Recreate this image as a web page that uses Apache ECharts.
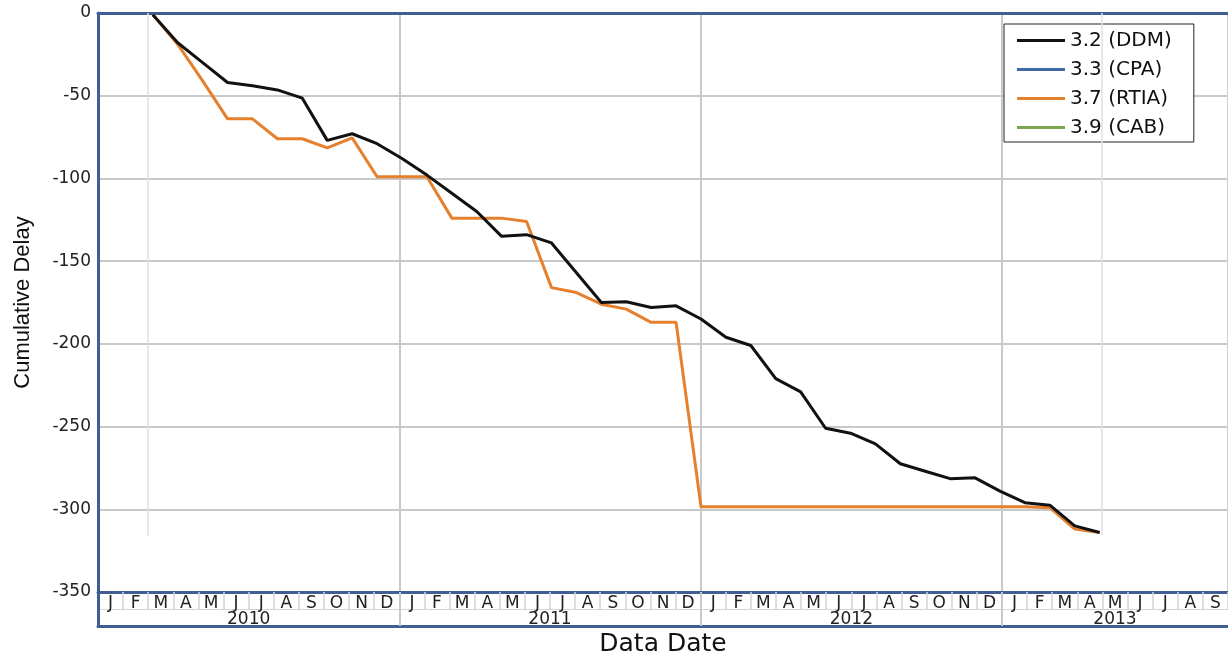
<!DOCTYPE html>
<html lang="en">
<head>
	<meta charset="UTF-8">
	<title>Cumulative Delay</title>
	<style>
		html, body { margin: 0; padding: 0; background: #fff; }
	</style>
</head>
<body>
	<div id="main" style="width: 1228px;height: 656px"></div>
	<script src="https://cdn.jsdelivr.net/npm/echarts@6/dist/echarts.min.js"></script>
	<script>
		// axis labels
		var monthLetters = ['J', 'F', 'M', 'A', 'M', 'J', 'J', 'A', 'S', 'O', 'N', 'D'];
		var years = ['2010', '2011', '2012', '2013'];
		var monthCount = 45;              // Jan 2010 .. Sep 2013
		var firstPointMonth = 2;          // first report: Mar 2010

		// monthly values, Mar 2010 .. May 2013
		var ddm = [
			-1, -18, -30, -42, -44, -46.5, -51.5, -77, -73, -79,
			-88, -98, -109, -120, -135, -134, -139, -157, -175, -174.5, -178, -177,
			-185, -196, -201, -221, -229, -251, -254, -260.5, -272.5, -277, -281.5, -281,
			-289, -296, -297.5, -310, -314
		];
		var rtia = [
			-1, -19, -41, -64, -64, -76, -76, -81.5, -75.5, -99,
			-99, -99, -124, -124, -124, -126, -166, -169, -176, -179, -187, -187,
			-298.5, -298.5, -298.5, -298.5, -298.5, -298.5, -298.5, -298.5, -298.5, -298.5, -298.5, -298.5,
			-298.5, -298.5, -299, -312, -314
		];
		var cpa = [];
		var cab = [];

		// faint markers at start / end of the reporting window
		var windowMarks = [1.8, 40.1];
		var windowDepth = -316;

		var monthLabels = [];
		for (var i = 0; i < monthCount; i++) {
			monthLabels.push(monthLetters[i % 12]);
		}

		var yearStarts = [], yearCenters = [];
		years.forEach(function(y, k) {
			var s = k * 12, e = Math.min(monthCount, s + 12);
			if (k > 0) yearStarts.push(s);
			yearCenters.push((s + e) / 2);
		});

		function toPoints(arr) {
			return arr.map(function(v, k) { return [firstPointMonth + k, v]; });
		}

		var blue = '#3f5f94';
		var grid = '#c9c9c9';
		var font = 'DejaVu Sans';

		var myChart = echarts.init(document.getElementById('main'));
		var option = {
			animation: false,
			backgroundColor: '#fff',
			grid: {
				left: 98, right: 0, top: 13, bottom: 64,
				outerBoundsMode: 'none'
			},
			legend: {
				orient: 'vertical',
				left: 1004,
				top: 24,
				padding: [6, 22, 4, 13],
				backgroundColor: '#fff',
				borderColor: '#222',
				borderWidth: 1,
				icon: 'rect',
				itemWidth: 48,
				itemHeight: 3,
				itemGap: 8,
				data: ['3.2 (DDM)', '3.3 (CPA)', '3.7 (RTIA)', '3.9 (CAB)'],
				textStyle: { fontFamily: font, fontSize: 20, color: '#111', lineHeight: 21 }
			},
			xAxis: [
				// data axis (hidden, drawn as top border)
				{
					type: 'value',
					position: 'top',
					min: -0.2,
					max: 45.15,
					axisLine: { onZero: false, lineStyle: { color: blue, width: 3 } },
					axisTick: { show: false },
					axisLabel: { show: false },
					splitLine: { show: false }
				},
				// month row
				{
					type: 'category',
					position: 'bottom',
					data: monthLabels,
					boundaryGap: true,
					axisLine: { onZero: false, lineStyle: { color: blue, width: 3 } },
					axisTick: { show: true, interval: 0, length: 17, lineStyle: { color: '#d4d4d4', width: 1.5 } },
					axisLabel: { interval: 0, margin: 3, fontFamily: font, fontSize: 17, color: '#222' },
					splitLine: {
						show: true,
						interval: function(index) { return index > 0 && index % 12 === 0; },
						lineStyle: { color: grid, width: 2 }
					}
				},
				// year row
				{
					type: 'value',
					position: 'bottom',
					min: 0,
					max: monthCount,
					axisLine: { show: false, onZero: false },
					axisTick: { show: true, customValues: yearStarts, length: 34, lineStyle: { color: grid, width: 2 } },
					axisLabel: {
						customValues: yearCenters,
						margin: 19,
						fontFamily: font,
						fontSize: 17,
						color: '#222',
						formatter: function(v) { return years[Math.floor(v / 12)]; }
					},
					splitLine: { show: false }
				},
				// divider between month and year rows
				{
					type: 'value',
					position: 'bottom',
					offset: 17,
					min: 0,
					max: monthCount,
					axisLine: { onZero: false, lineStyle: { color: '#d4d4d4', width: 1 } },
					axisTick: { show: false },
					axisLabel: { show: false },
					splitLine: { show: false }
				},
				// outer bottom border + title
				{
					type: 'value',
					position: 'bottom',
					offset: 34,
					min: 0,
					max: monthCount,
					name: 'Data Date',
					nameLocation: 'middle',
					nameGap: 6,
					nameTextStyle: { fontFamily: font, fontSize: 25, color: '#111', verticalAlign: 'top' },
					axisLine: { onZero: false, lineStyle: { color: blue, width: 3 } },
					axisTick: { show: true, inside: true, customValues: [0], length: 34, lineStyle: { color: blue, width: 3 } },
					axisLabel: { show: false },
					splitLine: { show: false }
				}
			],
			yAxis: [
				{
					type: 'value',
					min: -350,
					max: 0,
					interval: 50,
					name: 'Cumulative Delay',
					nameLocation: 'middle',
					nameRotate: 90,
					nameGap: 64,
					nameTextStyle: { fontFamily: 'Liberation Sans', fontSize: 22, color: '#111' },
					axisLine: { show: true, onZero: false, lineStyle: { color: blue, width: 3 } },
					axisTick: { show: false },
					axisLabel: { margin: 7, fontFamily: font, fontSize: 17, color: '#222' },
					splitLine: { lineStyle: { color: grid, width: 2 } }
				},
				{
					type: 'value',
					position: 'right',
					min: -350,
					max: 0,
					axisLine: { show: true, onZero: false, lineStyle: { color: '#d0d0d0', width: 3 } },
					axisTick: { show: false },
					axisLabel: { show: false },
					splitLine: { show: false }
				}
			],
			series: [
				{
					name: '3.3 (CPA)',
					type: 'line',
					color: '#3e6aa8',
					showSymbol: false,
					data: toPoints(cpa)
				},
				{
					name: '3.9 (CAB)',
					type: 'line',
					color: '#7aa64a',
					showSymbol: false,
					data: toPoints(cab)
				},
				{
					name: '3.7 (RTIA)',
					type: 'line',
					color: '#e5802e',
					z: 2,
					showSymbol: false,
					lineStyle: { width: 3 },
					data: toPoints(rtia),
					markLine: {
						silent: true,
						symbol: 'none',
						label: { show: false },
						lineStyle: { color: '#e0e0e0', width: 1.5, type: 'solid' },
						data: windowMarks.map(function(x) {
							return [{ coord: [x, 0] }, { coord: [x, windowDepth] }];
						})
					}
				},
				{
					name: '3.2 (DDM)',
					type: 'line',
					color: '#111',
					z: 3,
					showSymbol: false,
					lineStyle: { width: 3 },
					data: toPoints(ddm)
				}
			]
		};

		myChart.setOption(option);
	</script>
</body>
</html>
